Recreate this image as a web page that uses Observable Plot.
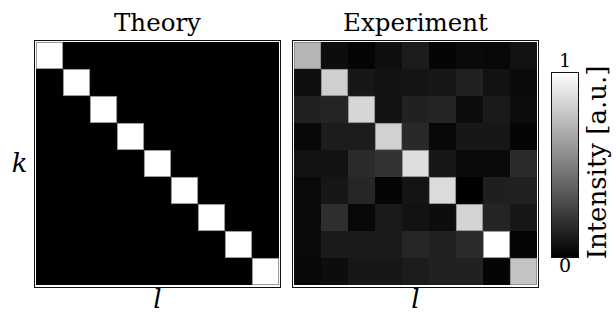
<!DOCTYPE html>
<html>
<head>
<meta charset="utf-8">
<script src="https://cdn.jsdelivr.net/npm/d3@7"></script>
<script src="https://cdn.jsdelivr.net/npm/@observablehq/plot@0.6"></script>
<style>
  html, body { margin: 0; padding: 0; background: #fff; }
  #chart { position: relative; width: 616px; height: 320px; overflow: hidden; }
  #chart svg { position: absolute; top: 0; }
</style>
</head>
<body>
<div id="chart"></div>
<script>
// Mode indices
const kIndex = [1, 2, 3, 4, 5, 6, 7, 8, 9];
const lIndex = [1, 2, 3, 4, 5, 6, 7, 8, 9];
const panels = ["Theory", "Experiment"];

// Ideal transfer matrix: rows k, columns l
const theory = [
  [1, 0, 0, 0, 0, 0, 0, 0, 0],
  [0, 1, 0, 0, 0, 0, 0, 0, 0],
  [0, 0, 1, 0, 0, 0, 0, 0, 0],
  [0, 0, 0, 1, 0, 0, 0, 0, 0],
  [0, 0, 0, 0, 1, 0, 0, 0, 0],
  [0, 0, 0, 0, 0, 1, 0, 0, 0],
  [0, 0, 0, 0, 0, 0, 1, 0, 0],
  [0, 0, 0, 0, 0, 0, 0, 1, 0],
  [0, 0, 0, 0, 0, 0, 0, 0, 1]
];

// Measured normalised intensities: rows k, columns l
const experiment = [
  [0.71, 0.05, 0.02, 0.06, 0.11, 0.02, 0.04, 0.03, 0.07],
  [0.06, 0.81, 0.09, 0.07, 0.08, 0.09, 0.13, 0.07, 0.04],
  [0.13, 0.14, 0.84, 0.07, 0.13, 0.14, 0.05, 0.10, 0.05],
  [0.03, 0.11, 0.11, 0.82, 0.16, 0.03, 0.09, 0.09, 0.02],
  [0.07, 0.07, 0.17, 0.20, 0.87, 0.09, 0.04, 0.04, 0.17],
  [0.04, 0.09, 0.15, 0.02, 0.08, 0.86, 0.00, 0.12, 0.13],
  [0.04, 0.18, 0.03, 0.10, 0.07, 0.05, 0.83, 0.14, 0.09],
  [0.04, 0.10, 0.10, 0.10, 0.15, 0.13, 0.17, 1.00, 0.02],
  [0.03, 0.05, 0.09, 0.09, 0.11, 0.13, 0.13, 0.02, 0.77]
];

const colorbarTicks = [{label: "1", at: "top"}, {label: "0", at: "bottom"}];
const colorbarTitle = "Intensity [a.u.]";
const xLabel = "l";
const yLabel = "k";

const serif = "DejaVu Serif";

// Flatten both matrices into one faceted table
const matrices = [theory, experiment];
const cells = [];
panels.forEach((panel, p) => {
  matrices[p].forEach((row, i) => {
    row.forEach((v, j) => cells.push({panel, k: kIndex[i], l: lIndex[j], v}));
  });
});
const corner = d => d.k === kIndex[0] && d.l === lIndex[0];

const color = {type: "linear", domain: [0, 1], range: ["#000000", "#ffffff"], interpolate: "rgb"};
const style = {background: "transparent", color: "black", fontFamily: serif};

const gap = 12, band = 246;
const heatmaps = Plot.plot({
  width: 616,
  height: 320,
  marginLeft: 34,
  marginRight: 78,
  marginTop: 40,
  marginBottom: 33,
  facet: {data: cells, x: "panel"},
  fx: {domain: panels, paddingInner: gap / (band + gap), paddingOuter: 0, axis: null, label: null},
  x: {domain: lIndex, padding: 0, axis: null},
  y: {domain: kIndex, padding: 0, axis: null},
  color,
  style,
  marks: [
    Plot.cell(cells, {x: "l", y: "k", fill: "v", inset: 0}),
    // soft edge around the bright cells
    Plot.cell(cells, {filter: d => d.v > 0.5, x: "l", y: "k", fill: "v", inset: 0.4,
                      stroke: "#8a8a8a", strokeWidth: 0.9}),
    Plot.frame({stroke: "#111", strokeWidth: 1}),
    Plot.text(cells, {filter: corner, text: "panel", frameAnchor: "top", dy: -27,
                      fontSize: 24.5, fontFamily: serif, fill: "black"}),
    Plot.text(cells, {filter: corner, text: () => xLabel, frameAnchor: "bottom", dy: 20,
                      fontSize: 26, fontFamily: serif, fontStyle: "italic", fill: "black"}),
    Plot.text(cells, {filter: d => corner(d) && d.panel === panels[0], text: () => yLabel,
                      frameAnchor: "left", dx: -15, textAnchor: "middle",
                      fontSize: 26, fontFamily: serif, fontStyle: "italic", fill: "black"})
  ]
});
heatmaps.style.left = "0px";

// Vertical colour bar built from thin bands of the same colour scale
const steps = 185;
const stops = d3.range(steps).map(i => i / steps);
const colorbar = Plot.plot({
  width: 65,
  height: 320,
  marginLeft: 0,
  marginRight: 38,
  marginTop: 72,
  marginBottom: 63,
  x: {domain: [0, 1], axis: null},
  y: {domain: [0, 1], axis: null},
  color,
  style,
  marks: [
    Plot.rect(stops, {x1: 0, x2: 1, y1: d => d, y2: d => d + 1 / steps, fill: d => d + 0.5 / steps,
                      shapeRendering: "crispEdges"}),
    Plot.frame({stroke: "#111", strokeWidth: 1}),
    Plot.text(colorbarTicks.filter(t => t.at === "top"), {text: "label", frameAnchor: "top", dy: -19,
                      fontSize: 19, fontFamily: serif, fill: "black"}),
    Plot.text(colorbarTicks.filter(t => t.at === "bottom"), {text: "label", frameAnchor: "bottom", dy: 14,
                      fontSize: 19, fontFamily: serif, fill: "black"}),
    Plot.text([colorbarTitle], {text: d => d, frameAnchor: "right", textAnchor: "middle",
                      dx: 19, dy: -2.5, rotate: -90,
                      fontSize: 26, fontFamily: serif, fill: "black"})
  ]
});
colorbar.style.left = "551px";

const root = document.getElementById("chart");
root.appendChild(heatmaps);
root.appendChild(colorbar);
</script>
</body>
</html>
